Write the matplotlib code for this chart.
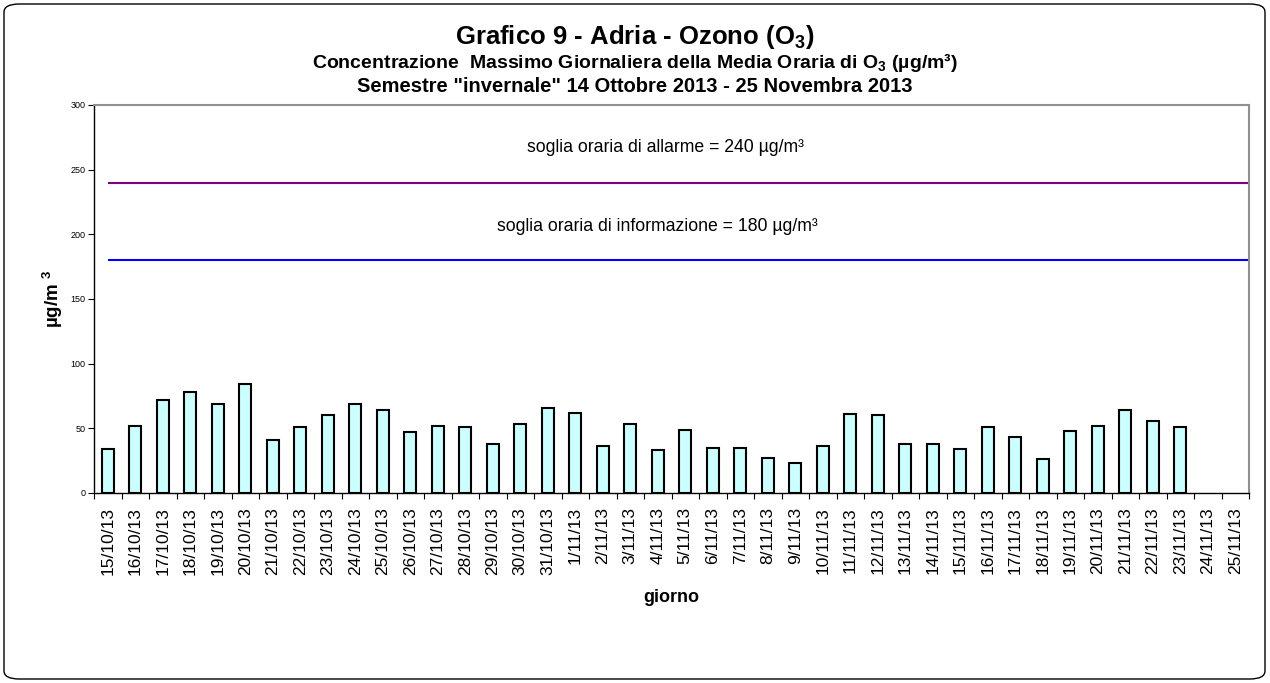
import numpy as np
import matplotlib
matplotlib.use("Agg")
import matplotlib.pyplot as plt
from matplotlib.patches import FancyBboxPatch

plt.rcParams['font.family'] = ['Liberation Sans', 'DejaVu Sans']
plt.rcParams['mathtext.fontset'] = 'custom'
plt.rcParams['mathtext.rm'] = 'Liberation Sans'
plt.rcParams['mathtext.bf'] = 'Liberation Sans:bold'

# daily max of hourly O3 means, 15/10/13 .. 25/11/13 (no data for the last two days)
giorni = ([f"{d}/10/13" for d in range(15, 32)] +
          [f"{d}/11/13" for d in range(1, 26)])
ozono = [34, 52, 72, 78, 69, 84, 41, 51, 60, 69, 64, 47, 52, 51, 38, 53, 66,
         62, 36, 53, 33, 49, 35, 35, 27, 23, 36, 61, 60, 38, 38, 34, 51, 43,
         26, 48, 52, 64, 56, 51, np.nan, np.nan]
soglia_allarme = 240
soglia_info = 180
yticks = [0, 50, 100, 150, 200, 250, 300]

fig = plt.figure(figsize=(12.7, 6.83), dpi=100)
fig.patches.append(FancyBboxPatch((4 / 1270, 4 / 683), 1261 / 1270, 675 / 683,
                                  boxstyle="round,pad=0,rounding_size=0.012",
                                  transform=fig.transFigure, fill=False,
                                  ec="black", lw=1.0))
ax = fig.add_axes([94 / 1270, 1 - 493 / 683, 1155 / 1270, 388 / 683])

n = len(giorni)
x = np.arange(n)
ax.bar(x, ozono, width=0.42, color="#CCFFFF", edgecolor="black", lw=1.5, zorder=3)
ax.hlines(soglia_allarme, 0, n - 0.45, color="#800080", lw=1.5, zorder=2)
ax.hlines(soglia_info, 0, n - 0.45, color="#0000FF", lw=1.5, zorder=2)

ax.text(0.495, 267, "soglia oraria di allarme = 240 µg/m³", transform=ax.get_yaxis_transform(),
        ha="center", va="center", fontsize=12.7)
ax.text(0.488, 206, "soglia oraria di informazione = 180 µg/m³", transform=ax.get_yaxis_transform(),
        ha="center", va="center", fontsize=12.7)

ax.set_xlim(-0.5, n - 0.5)
ax.set_ylim(0, 300)
ax.set_yticks(yticks)
ax.tick_params(axis="y", labelsize=6.5, length=4, width=0.8, pad=2)
ax.set_xticks(x)
ax.set_xticklabels(giorni, rotation=90, fontsize=12.5)
ax.set_xticks(np.arange(n + 1) - 0.5, minor=True)
ax.tick_params(axis="x", which="major", length=0, pad=10)
ax.tick_params(axis="x", which="minor", length=4, width=0.8)

for side in ("top", "right"):
    ax.spines[side].set_color("#909090")
    ax.spines[side].set_linewidth(1.5)
for side in ("left", "bottom"):
    ax.spines[side].set_color("black")
    ax.spines[side].set_linewidth(1.0)

ax.set_ylabel(r"µg/m $^{\mathbf{3}}$", fontsize=13.5, fontweight="bold", labelpad=4)
ax.set_xlabel("giorno", fontsize=13, fontweight="bold", labelpad=10)

fig.text(0.5, 1 - 37 / 683, r"Grafico 9 - Adria - Ozono (O$_{\mathbf{3}}$)",
         ha="center", va="center", fontsize=18.5, fontweight="bold")
fig.text(0.5, 1 - 62 / 683,
         r"Concentrazione  Massimo Giornaliera della Media Oraria di O$_{\mathbf{3}}$ (µg/m³)",
         ha="center", va="center", fontsize=14, fontweight="bold")
fig.text(0.5, 1 - 87 / 683, 'Semestre "invernale" 14 Ottobre 2013 - 25 Novembra 2013',
         ha="center", va="center", fontsize=14.5, fontweight="bold")

fig.savefig("out.png", dpi=100)
